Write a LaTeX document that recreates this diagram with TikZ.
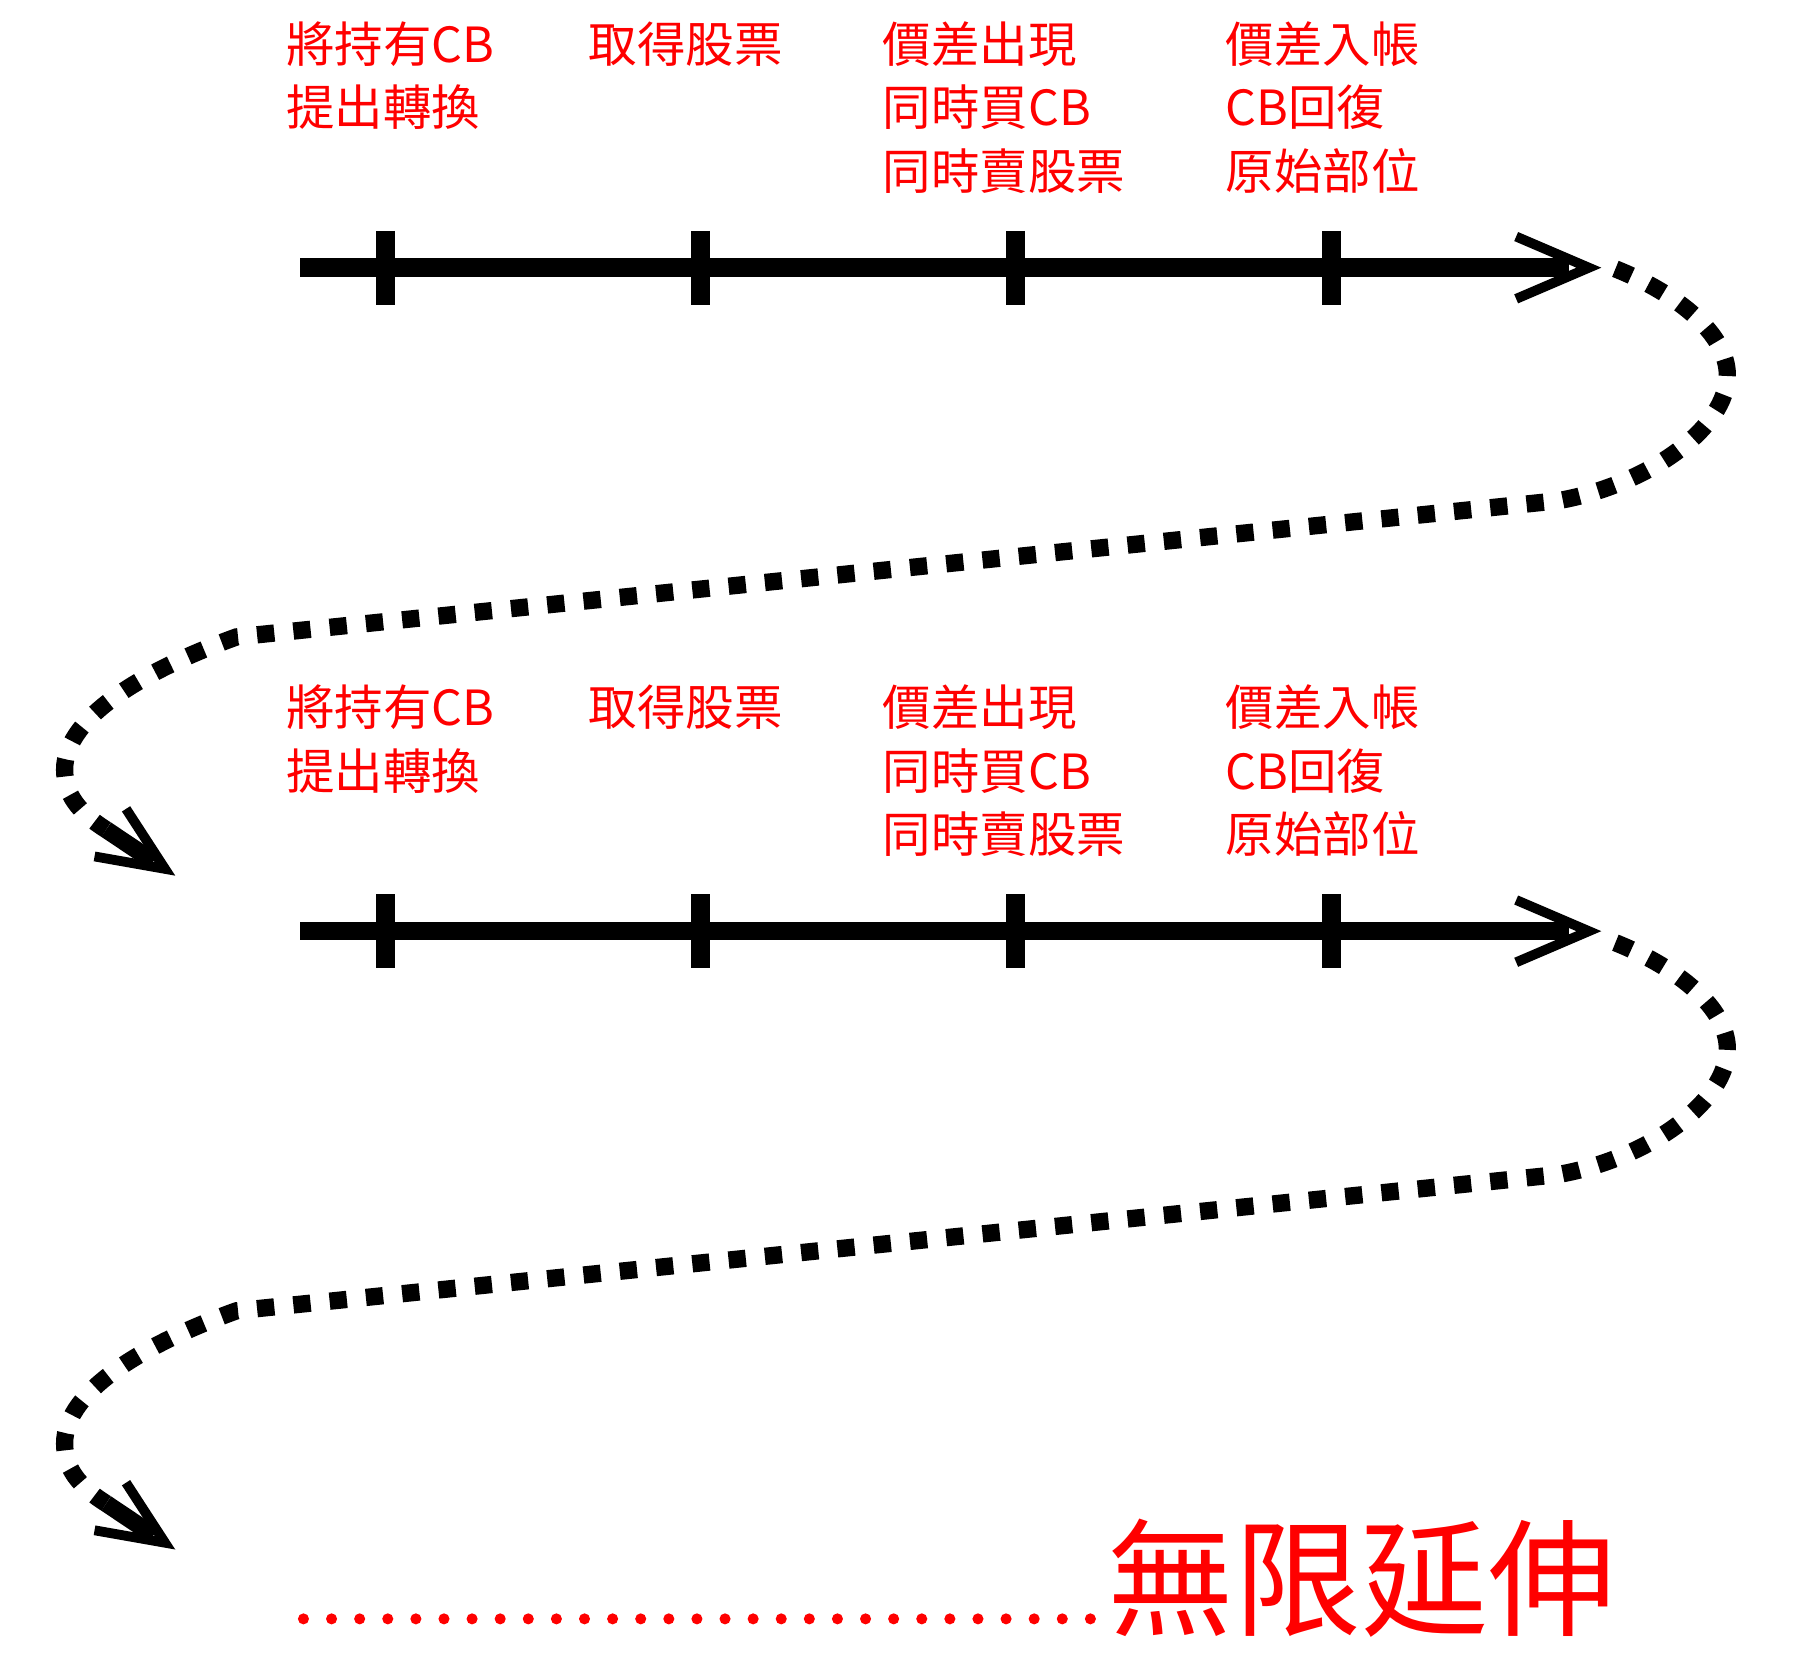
\documentclass[tikz,border=0pt]{standalone}
\usepackage{fontspec}
\newfontfamily\cjk{Noto Sans CJK TC}
\usetikzlibrary{calc}
\begin{document}
\begin{tikzpicture}[x=1pt,y=-1pt,
  axisline/.style={line width=16pt},
  tickmark/.style={line width=16pt},
  barb/.style={line width=8.5pt, line join=miter, miter limit=20},
  dotpath/.style={line width=15pt, dash pattern=on 15pt off 16.6pt},
  shaft/.style={line width=15pt},
  lbl/.style={text=red, font=\cjk\fontsize{42}{55}\selectfont, anchor=base west, inner sep=0pt},
  biglbl/.style={text=red, font=\cjk\fontsize{110}{120}\selectfont, anchor=base west, inner sep=0pt},
]
\useasboundingbox (0,0) rectangle (1560,1449);

% timelines
\foreach \yy/\b in {232/1,807/2}{
  \coordinate (s\b) at (260,\yy);
  \coordinate (e\b) at (1360,\yy);
  \coordinate (tip\b) at (1377,\yy);
  \draw[axisline] (s\b) -- (e\b);
  \draw[barb] ($(tip\b)+(-63,-27)$) -- (tip\b) -- ($(tip\b)+(-63,27)$);
  \foreach \x in {334,607,880,1154}
    \draw[tickmark] (\x,\yy-32) -- (\x,\yy+32);
}

% dotted connectors
\foreach \d/\b in {0/1,584/2}{
  \begin{scope}[yshift=-\d pt]
    \coordinate (cs\b) at (1400,233);
    \coordinate (ce\b) at (92,719);
    \coordinate (ct\b) at (143,753);
    \draw[dotpath] (cs\b) .. controls (1455,255) and (1497,290) .. (1497,325)
      .. controls (1497,370) and (1430,420) .. (1350,434)
      -- (205,552) .. controls (130,579) and (56,620) .. (56,667)
      .. controls (56,688) and (68,704) .. (ce\b);
    \draw[shaft] (ce\b) -- (133,746.5);
    \draw[barb] ($(ct\b)+(237:62)$) -- (ct\b) -- ($(ct\b)+(190:62)$);
  \end{scope}
}

% labels
\foreach \d/\s in {0/a,575/b}{
  \node[lbl] (c1l1\s) at (248,54+\d) {將持有CB};
  \node[lbl] (c1l2\s) at (248,109+\d) {提出轉換};
  \node[lbl] (c2l1\s) at (510,54+\d) {取得股票};
  \node[lbl] (c3l1\s) at (765,54+\d) {價差出現};
  \node[lbl] (c3l2\s) at (765,109+\d) {同時買CB};
  \node[lbl] (c3l3\s) at (765,164+\d) {同時賣股票};
  \node[lbl] (c4l1\s) at (1062,54+\d) {價差入帳};
  \node[lbl] (c4l2\s) at (1062,109+\d) {CB回復};
  \node[lbl] (c4l3\s) at (1062,164+\d) {原始部位};
}

% bottom
\foreach \i in {0,...,28}
  \fill[red] (263+\i*24.357,1403) circle[radius=4.8];
\node[biglbl] (inf) at (960,1410) {無限延伸};
\end{tikzpicture}
\end{document}
